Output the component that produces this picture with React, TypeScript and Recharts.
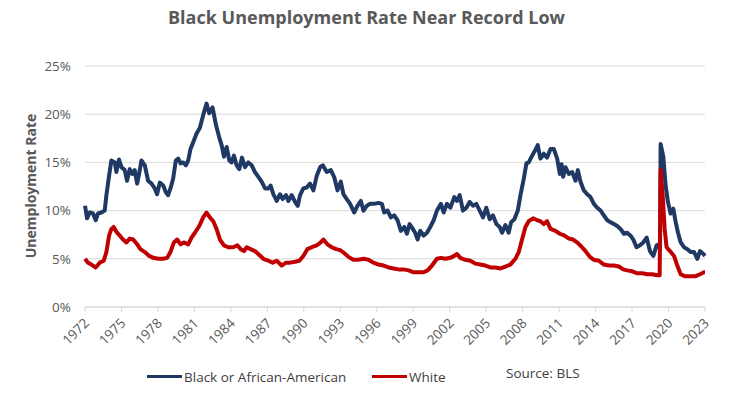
import { CartesianGrid, Line, LineChart, XAxis, YAxis } from 'recharts';

const FONT = '"Open Sans", "Noto Sans", sans-serif';
const TEXT = '#595959';
const GRID = '#d9d9d9';
const BLACK_COLOR = '#1f3864';
const WHITE_COLOR = '#c00000';

const X_TICKS = [
  1972, 1975, 1978, 1981, 1984, 1987, 1990, 1993, 1996, 1999, 2002, 2005, 2008, 2011, 2014,
  2017, 2020, 2023,
];
const Y_TICKS = [0, 5, 10, 15, 20, 25];

// Black or African-American, unemployment rate (%)
const blackYears = [
  1972.0, 1972.17, 1972.39, 1972.66, 1972.88, 1973.07, 1973.35, 1973.62, 1973.76, 1973.98,
  1974.17, 1974.45, 1974.58, 1974.8, 1975.0, 1975.27, 1975.46, 1975.68, 1975.9, 1976.09,
  1976.29, 1976.45, 1976.64, 1976.92, 1977.19, 1977.47, 1977.74, 1977.93, 1978.15, 1978.43,
  1978.65, 1978.84, 1979.03, 1979.25, 1979.47, 1979.67, 1979.86, 1980.08, 1980.3, 1980.49,
  1980.68, 1980.9, 1981.18, 1981.45, 1981.72, 1982.0, 1982.22, 1982.49, 1982.77, 1983.04,
  1983.24, 1983.43, 1983.65, 1983.87, 1984.06, 1984.25, 1984.47, 1984.69, 1984.91, 1985.16,
  1985.43, 1985.71, 1985.98, 1986.26, 1986.53, 1986.81, 1987.08, 1987.27, 1987.49, 1987.77,
  1988.04, 1988.26, 1988.54, 1988.73, 1989.0, 1989.28, 1989.5, 1989.69, 1989.96, 1990.24,
  1990.51, 1990.79, 1991.06, 1991.34, 1991.56, 1991.89, 1992.22, 1992.49, 1992.77, 1993.04,
  1993.26, 1993.53, 1993.81, 1994.14, 1994.41, 1994.69, 1994.91, 1995.18, 1995.46, 1995.79,
  1996.14, 1996.42, 1996.61, 1996.89, 1997.16, 1997.43, 1997.71, 1997.98, 1998.26, 1998.48,
  1998.7, 1998.97, 1999.16, 1999.36, 1999.58, 1999.85, 2000.13, 2000.4, 2000.68, 2000.95,
  2001.28, 2001.5, 2001.77, 2002.05, 2002.38, 2002.6, 2002.82, 2003.09, 2003.37, 2003.64,
  2003.92, 2004.19, 2004.47, 2004.74, 2005.01, 2005.29, 2005.56, 2005.84, 2006.11, 2006.31,
  2006.58, 2006.85, 2007.05, 2007.32, 2007.6, 2007.82, 2008.09, 2008.31, 2008.5, 2008.78,
  2009.05, 2009.24, 2009.46, 2009.74, 2010.01, 2010.29, 2010.56, 2010.84, 2011.06, 2011.2,
  2011.33, 2011.52, 2011.8, 2012.07, 2012.35, 2012.54, 2012.76, 2013.03, 2013.31, 2013.58,
  2013.86, 2014.13, 2014.41, 2014.68, 2014.96, 2015.23, 2015.51, 2015.78, 2016.05, 2016.33,
  2016.6, 2016.88, 2017.1, 2017.37, 2017.65, 2017.92, 2018.2, 2018.47, 2018.75, 2019.02,
  2019.21, 2019.3, 2019.35, 2019.57, 2019.76, 2019.95, 2020.17, 2020.39, 2020.59, 2020.78,
  2021.0, 2021.27, 2021.55, 2021.82, 2022.1, 2022.37, 2022.59, 2022.87, 2023.0,
];
const blackRates = [
  10.5, 9.2, 9.8, 9.7, 9.0, 9.7, 9.8, 10.0, 11.6, 13.6,
  15.2, 15.0, 14.0, 15.3, 14.5, 14.2, 13.1, 14.3, 13.8, 14.2,
  12.8, 13.8, 15.2, 14.7, 13.1, 12.8, 12.3, 11.7, 12.9, 12.6,
  11.9, 11.6, 12.3, 13.3, 15.2, 15.4, 14.9, 15.0, 14.7, 15.2,
  16.4, 17.1, 18.0, 18.6, 19.9, 21.1, 20.1, 20.7, 18.9, 17.6,
  16.8, 15.6, 16.6, 15.2, 15.0, 15.7, 14.7, 14.3, 15.5, 14.5,
  15.0, 14.7, 14.0, 13.5, 13.0, 12.3, 12.3, 12.6, 11.7, 11.0,
  11.7, 11.2, 11.6, 11.0, 11.6, 10.9, 10.5, 11.6, 12.3, 12.4,
  12.8, 12.1, 13.6, 14.5, 14.7, 14.0, 14.2, 13.5, 12.1, 13.0,
  11.7, 11.2, 10.7, 9.8, 10.5, 11.0, 10.0, 10.5, 10.7, 10.7,
  10.8, 10.7, 9.8, 10.0, 9.3, 9.5, 9.0, 7.9, 8.3, 7.6,
  8.6, 8.1, 7.7, 7.0, 7.9, 7.4, 7.7, 8.3, 9.0, 10.0,
  10.7, 9.8, 10.7, 10.3, 11.4, 11.0, 11.6, 10.0, 10.3, 10.9,
  10.5, 10.7, 10.0, 9.3, 10.3, 9.1, 9.5, 8.6, 8.3, 7.7,
  8.5, 7.7, 8.8, 9.1, 10.0, 11.6, 13.3, 14.9, 15.0, 15.7,
  16.3, 16.8, 15.4, 15.9, 15.5, 16.4, 16.4, 15.4, 13.8, 14.8,
  13.5, 14.5, 13.8, 14.0, 13.1, 14.2, 13.0, 12.1, 11.7, 11.4,
  10.7, 10.3, 10.0, 9.5, 9.0, 8.8, 8.6, 8.4, 8.1, 7.6,
  7.7, 7.4, 7.0, 6.2, 6.4, 6.7, 7.2, 5.8, 5.3, 6.4,
  6.5, 6.0, 16.9, 15.6, 12.6, 10.9, 9.7, 10.2, 8.8, 7.7,
  6.7, 6.2, 6.0, 5.7, 5.7, 5.0, 5.8, 5.5, 5.3,
];

// White, unemployment rate (%)
const whiteYears = [
  1972.0, 1972.25, 1972.52, 1972.88, 1973.21, 1973.54, 1973.76, 1973.98, 1974.17, 1974.36,
  1974.58, 1974.86, 1975.13, 1975.41, 1975.68, 1975.96, 1976.29, 1976.56, 1976.92, 1977.28,
  1977.61, 1978.02, 1978.43, 1978.76, 1979.03, 1979.31, 1979.58, 1979.86, 1980.13, 1980.49,
  1980.76, 1981.04, 1981.4, 1981.72, 1982.0, 1982.27, 1982.55, 1982.82, 1983.1, 1983.43,
  1983.78, 1984.2, 1984.53, 1984.8, 1985.08, 1985.3, 1985.62, 1985.98, 1986.34, 1986.67,
  1987.08, 1987.44, 1987.77, 1988.18, 1988.54, 1988.87, 1989.28, 1989.63, 1989.96, 1990.29,
  1990.65, 1991.06, 1991.39, 1991.61, 1991.94, 1992.3, 1992.66, 1992.99, 1993.31, 1993.67,
  1994.08, 1994.5, 1994.91, 1995.32, 1995.73, 1996.14, 1996.56, 1996.97, 1997.38, 1997.79,
  1998.2, 1998.62, 1999.03, 1999.44, 1999.85, 2000.18, 2000.54, 2000.95, 2001.28, 2001.64,
  2002.05, 2002.38, 2002.6, 2002.87, 2003.28, 2003.7, 2004.11, 2004.52, 2004.93, 2005.34,
  2005.76, 2006.17, 2006.58, 2006.99, 2007.4, 2007.68, 2007.95, 2008.23, 2008.5, 2008.86,
  2009.19, 2009.46, 2009.74, 2010.01, 2010.29, 2010.7, 2011.06, 2011.44, 2011.8, 2012.15,
  2012.48, 2012.81, 2013.17, 2013.53, 2013.86, 2014.27, 2014.68, 2015.09, 2015.51, 2015.92,
  2016.27, 2016.6, 2017.02, 2017.43, 2017.84, 2018.25, 2018.66, 2019.08, 2019.27, 2019.35,
  2019.52, 2019.68, 2019.84, 2020.12, 2020.45, 2020.72, 2021.0, 2021.33, 2021.82, 2022.23,
  2022.59, 2022.92, 2023.0,
];
const whiteRates = [
  5.0, 4.6, 4.4, 4.1, 4.6, 4.8, 5.7, 7.4, 8.1, 8.3,
  7.8, 7.4, 7.0, 6.7, 7.1, 7.0, 6.5, 6.0, 5.7, 5.3,
  5.1, 5.0, 5.0, 5.1, 5.7, 6.7, 7.0, 6.5, 6.7, 6.5,
  7.2, 7.7, 8.4, 9.3, 9.8, 9.3, 8.9, 8.1, 7.0, 6.4,
  6.2, 6.2, 6.4, 6.0, 5.8, 6.2, 6.0, 5.8, 5.4, 5.0,
  4.8, 4.6, 4.8, 4.3, 4.6, 4.6, 4.7, 4.8, 5.3, 6.0,
  6.2, 6.4, 6.7, 7.0, 6.5, 6.2, 6.0, 5.9, 5.6, 5.2,
  4.9, 4.9, 5.0, 4.9, 4.6, 4.4, 4.3, 4.1, 4.0, 3.9,
  3.9, 3.8, 3.6, 3.6, 3.6, 3.8, 4.3, 5.0, 5.1, 5.0,
  5.1, 5.3, 5.5, 5.1, 4.9, 4.8, 4.5, 4.4, 4.3, 4.1,
  4.1, 4.0, 4.2, 4.4, 5.0, 5.7, 7.0, 8.3, 8.9, 9.2,
  9.0, 8.9, 8.6, 8.9, 8.1, 7.9, 7.6, 7.4, 7.1, 7.0,
  6.7, 6.3, 5.8, 5.2, 4.9, 4.8, 4.4, 4.3, 4.3, 4.2,
  3.9, 3.8, 3.7, 3.5, 3.5, 3.4, 3.4, 3.3, 3.3, 14.2,
  11.6, 8.1, 6.2, 5.8, 5.3, 4.3, 3.4, 3.2, 3.2, 3.2,
  3.4, 3.6, 3.6,
];

const blackData = blackYears.map((year, i) => ({ year, rate: blackRates[i] }));
const whiteData = whiteYears.map((year, i) => ({ year, rate: whiteRates[i] }));

function YearTick({ x, y, payload }: { x: number; y: number; payload: { value: number } }) {
  const ax = x + 5;
  const ay = y + 10;
  return (
    <text
      x={ax}
      y={ay}
      transform={`rotate(-45 ${ax} ${ay})`}
      textAnchor="end"
      fontSize={13.5}
      fill={TEXT}
      fontFamily={FONT}
    >
      {payload.value}
    </text>
  );
}

function LegendItem({ color, label }: { color: string; label: string }) {
  return (
    <span style={{ display: 'inline-flex', alignItems: 'center' }}>
      <span style={{ display: 'inline-block', width: 35, height: 3, background: color }} />
      <span style={{ marginLeft: 2 }}>{label}</span>
    </span>
  );
}

export default function App() {
  return (
    <div
      style={{
        position: 'absolute',
        left: 0,
        top: 0,
        width: 733,
        height: 394,
        background: '#fff',
        fontFamily: FONT,
      }}
    >
      <div
        style={{
          position: 'absolute',
          top: 5,
          left: 0,
          width: 733,
          textAlign: 'center',
          fontSize: 18,
          fontWeight: 700,
          color: TEXT,
        }}
      >
        Black Unemployment Rate Near Record Low
      </div>
      <div
        style={{
          position: 'absolute',
          left: 30,
          top: 186,
          transform: 'translate(-50%, -50%) rotate(-90deg)',
          whiteSpace: 'nowrap',
          fontSize: 14,
          fontWeight: 700,
          color: TEXT,
        }}
      >
        Unemployment Rate
      </div>
      <LineChart
        width={733}
        height={394}
        margin={{ top: 66, right: 28, bottom: 42, left: 35 }}
      >
        <CartesianGrid horizontal vertical={false} stroke={GRID} />
        <XAxis
          dataKey="year"
          type="number"
          domain={[1972, 2023]}
          ticks={X_TICKS}
          interval={0}
          allowDuplicatedCategory={false}
          axisLine={{ stroke: GRID }}
          tickLine={{ stroke: GRID }}
          tickSize={5}
          height={45}
          tick={YearTick}
        />
        <YAxis
          type="number"
          domain={[0, 25]}
          ticks={Y_TICKS}
          width={50}
          axisLine={false}
          tickLine={false}
          tickMargin={8}
          tickFormatter={(v: number) => `${v}%`}
          tick={{ fontSize: 13.5, fill: TEXT, fontFamily: FONT }}
        />
        <Line
          data={blackData}
          dataKey="rate"
          type="linear"
          stroke={BLACK_COLOR}
          strokeWidth={4}
          strokeLinejoin="round"
          dot={false}
          isAnimationActive={false}
        />
        <Line
          data={whiteData}
          dataKey="rate"
          type="linear"
          stroke={WHITE_COLOR}
          strokeWidth={4}
          strokeLinejoin="round"
          dot={false}
          isAnimationActive={false}
        />
      </LineChart>
      <div
        style={{
          position: 'absolute',
          top: 364,
          left: 147,
          fontSize: 13.5,
          color: '#404040',
          display: 'flex',
          whiteSpace: 'nowrap',
        }}
      >
        <span style={{ width: 225 }}>
          <LegendItem color={BLACK_COLOR} label="Black or African-American" />
        </span>
        <span style={{ width: 134 }}>
          <LegendItem color={WHITE_COLOR} label="White" />
        </span>
        <span>Source: BLS</span>
      </div>
    </div>
  );
}
